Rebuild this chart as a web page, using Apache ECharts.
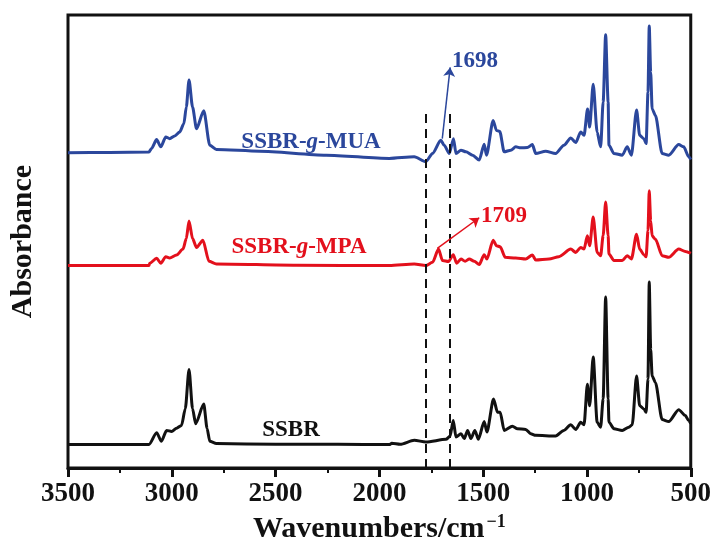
<!DOCTYPE html>
<html><head><meta charset="utf-8">
<script src="https://cdn.jsdelivr.net/npm/echarts@6/dist/echarts.min.js"></script>
<style>html,body{margin:0;padding:0;background:#fff}#c{width:714px;height:549px}</style>
</head><body><div id="c"></div>
<script>
// x tick labels
const xTicks = [3500, 3000, 2500, 2000, 1500, 1000, 500];

// SSBR (black)
const wnSSBR = [3500,3300,3110,3073,3050,3025,3001,2977,2953,2935,2917,2900,2885,2846,2830,2817,2785,2500,2200,1952,1940,1900,1832,1776,1679,1660,1644,1631,1607,1591,1575,1559,1540,1523,1495,1482,1450,1431,1418,1399,1359,1335,1295,1271,1247,1151,1111,1078,1054,1030,1014,998,987,970,951,934,922,910,898,894,870,830,798,782,761,746,726,715,706,700,693,686,670,638,606,558,526,510,500];
const absSSBR = [23.7,23.7,23.7,35.7,27,38,37,40.3,43,60,99.7,60,44.7,64.7,40,27,24.7,24,24,23.7,25,24,28,26.3,29,32,48,31.3,34.7,29.7,38,29.7,38,29,47,36.3,69.7,56.3,56.3,38,42.3,39.7,39,34.7,33,32.3,38,43.7,39,46.3,43.7,84.7,63,112.3,46.3,41.3,70,173,70,46.3,39.7,38,41.3,43.7,93,63,59.7,56.3,90,188,120,93,86.3,49,47,59,53,48,45];

// SSBR-g-MPA (red)
const wnMPA = [3500,3300,3110,3106,3073,3053,3029,3010,2977,2946,2930,2917,2900,2881,2850,2821,2785,2400,1952,1832,1776,1744,1715,1696,1667,1644,1628,1607,1587,1567,1543,1519,1495,1482,1452,1436,1418,1394,1343,1295,1263,1247,1183,1135,1078,1054,1030,1014,998,987,970,951,934,922,910,898,894,870,830,806,786,761,746,726,715,706,700,693,686,670,638,606,558,526,510,500];
const absMPA = [204.7,204.7,204.7,207,212,207,213.7,212.3,215.3,221.3,232,249.7,232,223,230.3,209,206.3,205,204.7,206.3,204.7,208,221.3,209.7,208.7,215.7,207,211.3,209,211.3,209,205.7,215.7,211.3,230.3,224.7,223.7,213,212.3,211.3,215.3,210.3,211.3,213.7,221.3,218,223,221.3,234.7,224.7,253.7,218,214.7,235,269,235,216.3,209.7,209.7,214.7,211.3,236.3,221.3,215.7,213.7,240,280.3,250,234.7,231.3,214.7,213,221.3,219,218,217];

// SSBR-g-MUA (blue)
const wnMUA = [3500,3300,3110,3098,3073,3053,3029,3010,2986,2962,2942,2930,2917,2900,2881,2846,2817,2785,2577,2256,1952,1832,1776,1744,1704,1688,1663,1643,1631,1607,1583,1551,1519,1495,1484,1452,1436,1420,1399,1367,1343,1319,1287,1263,1247,1199,1151,1111,1078,1054,1030,1014,997,987,970,951,934,922,910,898,894,870,830,806,786,761,746,726,715,706,700,693,686,670,638,606,558,534,510,500];
const absMUA = [318.7,319,319.5,323,332,324.7,334.7,333,335.7,339.7,348,365,392.3,365,343,361.3,326.3,322,320.3,316.3,313,314.7,309.7,318,331.3,326.3,318,333,318,321.3,319.7,316.3,311.3,327.3,316.3,351.3,341.3,340.3,319.7,321.3,324.7,323.7,324,327,318,320.3,318,326.3,333.7,329,339.7,336.3,363,344.7,388,339.7,324.7,370,438,370,326.3,318,316.3,324.7,316.3,362,336.3,333,328,380,447,400,363,356.3,318,316.3,327,324.7,314.7,312];

// dashed reference lines (cm-1) and annotations
const dashX = [1775, 1660];
const arrowMUA = [[1697, 333], [1659, 405]];
const arrowMPA = [[1721, 222], [1519, 253]];

const C_BLACK = '#111111', C_RED = '#e3101c', C_BLUE = '#2b479c';
const pair = (w, a) => w.map((x, i) => [x, a[i]]);
const FONT = '"Liberation Serif", "Times New Roman", serif';
const LW = 3;

const chart = echarts.init(document.getElementById('c'));
chart.setOption({
  animation: false,
  backgroundColor: '#fff',
  grid: { left: 68, right: 22, top: 15, bottom: 76, show: true, borderColor: C_BLACK, borderWidth: 3, backgroundColor: 'transparent' },
  xAxis: {
    type: 'value', min: 500, max: 3500, interval: 500, inverse: true,
    axisLine: { show: true, lineStyle: { color: C_BLACK, width: 3 } },
    axisTick: { show: true, inside: false, length: 9, lineStyle: { color: C_BLACK, width: 3 } },
    minorTick: { show: true, splitNumber: 2, length: 5, lineStyle: { color: C_BLACK, width: 2 } },
    splitLine: { show: false },
    axisLabel: { color: C_BLACK, fontFamily: FONT, fontWeight: 'bold', fontSize: 27, margin: 13,
      formatter: v => xTicks.includes(v) ? String(v) : '' },
    name: '{a|Wavenumbers/cm}{s|\u22121}',
    nameLocation: 'middle', nameGap: 45,
    nameTextStyle: {
      color: C_BLACK, fontFamily: FONT, fontWeight: 'bold', fontSize: 30,
      rich: {
        a: { fontFamily: FONT, fontWeight: 'bold', fontSize: 30, color: C_BLACK },
        s: { fontFamily: FONT, fontWeight: 'bold', fontSize: 18, color: C_BLACK, verticalAlign: 'top', padding: [0, 0, 14, 2] }
      }
    }
  },
  yAxis: {
    type: 'value', min: 0, max: 458,
    axisLine: { show: false }, axisTick: { show: false }, axisLabel: { show: false }, splitLine: { show: false },
    name: 'Absorbance', nameLocation: 'middle', nameGap: 30,
    nameTextStyle: { color: C_BLACK, fontFamily: FONT, fontWeight: 'bold', fontSize: 30 }
  },
  series: [
    { name: 'SSBR', type: 'line', data: pair(wnSSBR, absSSBR), showSymbol: false, smooth: 0.25, smoothMonotone: 'x',
      lineStyle: { color: C_BLACK, width: LW, join: 'round' }, itemStyle: { color: C_BLACK },
      markLine: { silent: true, symbol: ['none', 'none'], label: { show: false },
        lineStyle: { color: C_BLACK, width: 2, type: [9, 6] },
        data: dashX.map(x => [{ coord: [x, 0] }, { coord: [x, 363] }]) } },
    { name: 'SSBR-g-MPA', type: 'line', data: pair(wnMPA, absMPA), showSymbol: false, smooth: 0.25, smoothMonotone: 'x',
      lineStyle: { color: C_RED, width: LW, join: 'round' }, itemStyle: { color: C_RED },
      markLine: { silent: true, symbol: ['none', 'arrow'], symbolSize: 9, label: { show: false },
        lineStyle: { color: C_RED, width: 1.5, type: 'solid' },
        data: [[{ coord: arrowMPA[0] }, { coord: arrowMPA[1] }]] } },
    { name: 'SSBR-g-MUA', type: 'line', data: pair(wnMUA, absMUA), showSymbol: false, smooth: 0.25, smoothMonotone: 'x',
      lineStyle: { color: C_BLUE, width: LW, join: 'round' }, itemStyle: { color: C_BLUE },
      markLine: { silent: true, symbol: ['none', 'arrow'], symbolSize: 9, label: { show: false },
        lineStyle: { color: C_BLUE, width: 1.5, type: 'solid' },
        data: [[{ coord: arrowMUA[0] }, { coord: arrowMUA[1] }]] } }
  ],
  graphic: [
    { type: 'text', x: 311, y: 142, style: { text: '{b|SSBR-}{i|g}{b|-MUA}', align: 'center', verticalAlign: 'middle',
      rich: { b: { fontFamily: FONT, fontWeight: 'bold', fontSize: 23, fill: C_BLUE }, i: { fontFamily: FONT, fontWeight: 'bold', fontStyle: 'italic', fontSize: 23, fill: C_BLUE } } } },
    { type: 'text', x: 299, y: 247, style: { text: '{b|SSBR-}{i|g}{b|-MPA}', align: 'center', verticalAlign: 'middle',
      rich: { b: { fontFamily: FONT, fontWeight: 'bold', fontSize: 23, fill: C_RED }, i: { fontFamily: FONT, fontWeight: 'bold', fontStyle: 'italic', fontSize: 23, fill: C_RED } } } },
    { type: 'text', x: 291, y: 430, style: { text: 'SSBR', align: 'center', verticalAlign: 'middle', fontFamily: FONT, fontWeight: 'bold', fontSize: 23, fill: C_BLACK } },
    { type: 'text', x: 475, y: 61, style: { text: '1698', align: 'center', verticalAlign: 'middle', fontFamily: FONT, fontWeight: 'bold', fontSize: 23, fill: C_BLUE } },
    { type: 'text', x: 504, y: 216, style: { text: '1709', align: 'center', verticalAlign: 'middle', fontFamily: FONT, fontWeight: 'bold', fontSize: 23, fill: C_RED } }
  ]
});
</script>
</body></html>
